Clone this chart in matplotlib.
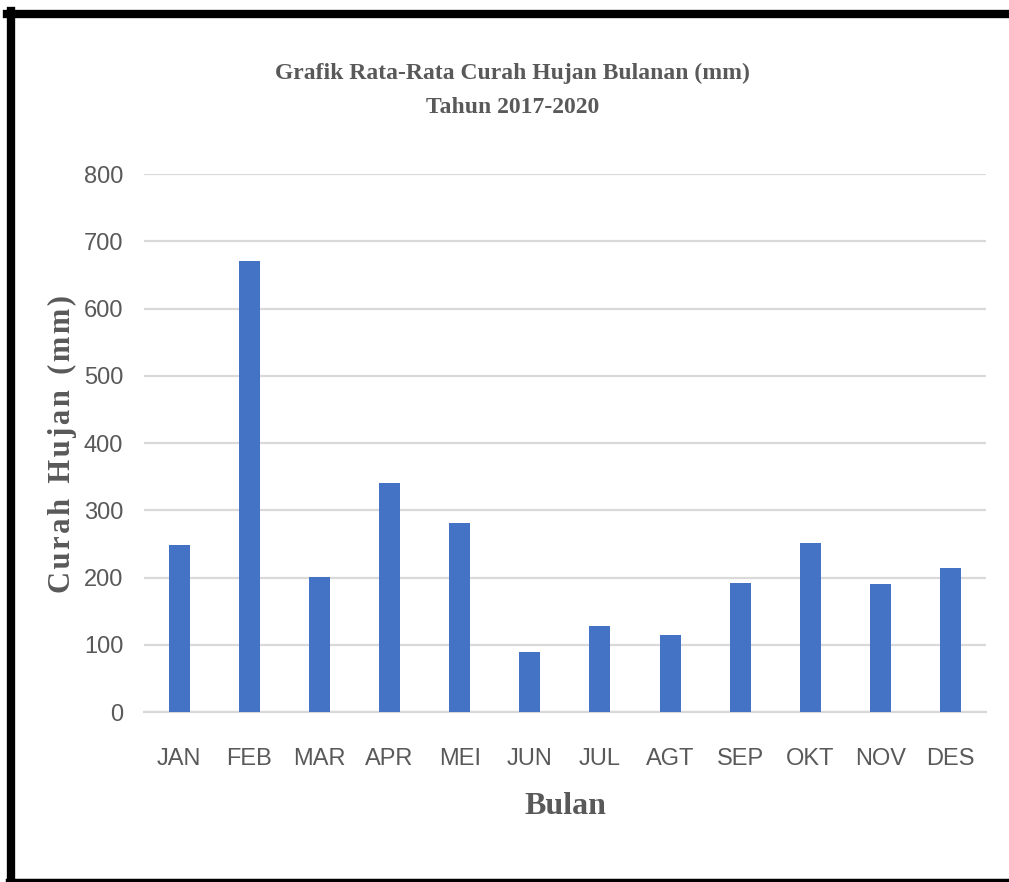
"""Monthly average rainfall bar chart, 2017-2020."""

import matplotlib.pyplot as plt
from matplotlib.lines import Line2D
import numpy as np

bulan = ["JAN", "FEB", "MAR", "APR", "MEI", "JUN",
         "JUL", "AGT", "SEP", "OKT", "NOV", "DES"]
curah_hujan = [249, 670, 201, 340, 281, 90, 128, 114, 192, 252, 190, 214]
y_ticks = [0, 100, 200, 300, 400, 500, 600, 700, 800]

BAR_BLUE = "#4472C4"
TEXT_GREY = "#595959"
GRID_GREY = "#d9d9d9"
SERIF = ["Liberation Serif", "DejaVu Serif"]
SANS = ["Liberation Sans", "DejaVu Sans"]

fig = plt.figure(figsize=(10.09, 8.82), dpi=100)
ax = fig.add_axes([0.1427, 0.1927, 0.977 - 0.1427, 0.8027 - 0.1927])

x = np.arange(len(bulan))
ax.bar(x, curah_hujan, width=0.3, color=BAR_BLUE, zorder=3)

ax.set_xlim(-0.5, len(bulan) - 0.5)
ax.set_ylim(0, 800)
ax.set_yticks(y_ticks)
ax.set_xticks(x)
ax.set_xticklabels(bulan)
ax.grid(axis="y", color=GRID_GREY, linewidth=1.6, zorder=0)
for side in ["top", "right", "left"]:
    ax.spines[side].set_visible(False)
ax.spines["bottom"].set_color(GRID_GREY)
ax.spines["bottom"].set_linewidth(1.6)
ax.tick_params(length=0, colors=TEXT_GREY, labelsize=17)
ax.tick_params(axis="y", pad=15)
ax.tick_params(axis="x", pad=26)
for lbl in ax.get_xticklabels() + ax.get_yticklabels():
    lbl.set_family(SANS)

ax.set_xlabel("Bulan", family=SERIF, fontweight="bold", fontsize=23,
              color=TEXT_GREY, labelpad=16)

# y label with a little letter spacing (hair spaces)
ylabel = "  ".join("\u200a".join(w) for w in ["Curah", "Hujan", "(mm)"])
fig.text(0.062, 0.497, ylabel,
         rotation=90, family=SERIF, fontweight="bold", fontsize=22,
         color=TEXT_GREY, ha="center", va="center")

fig.text(0.508, 0.917, "Grafik Rata-Rata Curah Hujan Bulanan (mm)",
         family=SERIF, fontweight="bold", fontsize=17, color=TEXT_GREY,
         ha="center", va="center")
fig.text(0.508, 0.878, "Tahun 2017-2020",
         family=SERIF, fontweight="bold", fontsize=17, color=TEXT_GREY,
         ha="center", va="center")

# frame around the chart: heavy top and left, thin bottom
fig.add_artist(Line2D([0.007, 1.0], [1 - 14 / 882, 1 - 14 / 882],
                      color="black", linewidth=6, transform=fig.transFigure))
fig.add_artist(Line2D([11 / 1009, 11 / 1009], [1 - 11 / 882, 2 / 882],
                      color="black", linewidth=6, transform=fig.transFigure))
fig.add_artist(Line2D([0.007, 1.0], [2 / 882, 2 / 882],
                      color="black", linewidth=2.5, transform=fig.transFigure))

fig.savefig("out.png", dpi=100)
